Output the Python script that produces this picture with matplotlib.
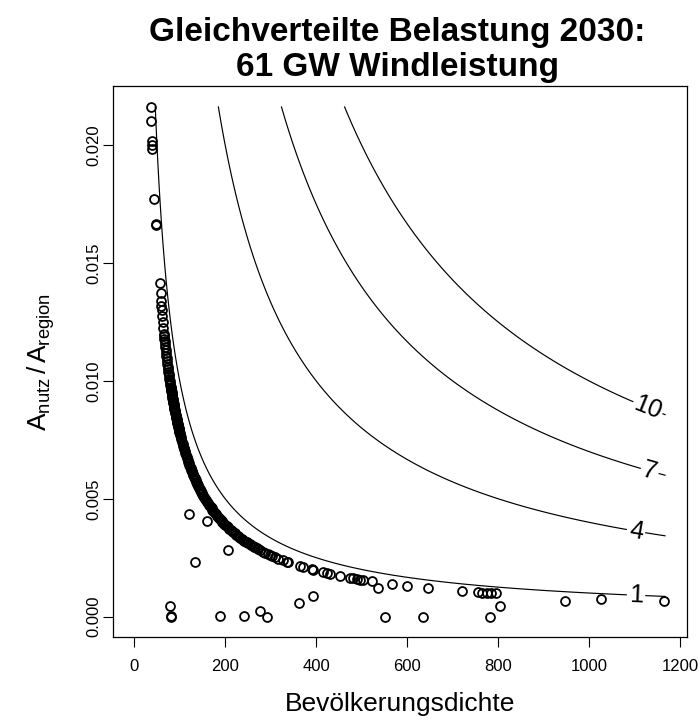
import numpy as np
import matplotlib
matplotlib.use("Agg")
import matplotlib.pyplot as plt

plt.rcParams['font.family'] = ['Liberation Sans', 'DejaVu Sans']
plt.rcParams['mathtext.fontset'] = 'custom'
plt.rcParams['mathtext.rm'] = 'Liberation Sans'
plt.rcParams['mathtext.it'] = 'Liberation Sans'

# ---- data: population density (x) and area share (y) ----
x_top = [36.0, 36.7, 38.0, 38.2, 38.4, 44.0, 47.5, 47.9, 56.5, 58.0, 59.0, 59.5, 60.0, 60.8, 62.5, 63.6,
         65.0, 65.5, 66.2, 66.8, 67.5, 68.2, 69.0, 69.7, 70.5, 71.2, 72.0, 72.8, 73.5, 74.3, 75.0, 75.8,
         76.5, 77.2, 78.0, 78.6, 79.3]
y_top = [0.02164, 0.02103, 0.02017, 0.02000, 0.01983, 0.01773, 0.01660, 0.01668, 0.01416, 0.01373, 0.01340,
         0.01320, 0.01300, 0.01276, 0.01248, 0.01226,
         0.01200, 0.01190, 0.01178, 0.01168, 0.01156, 0.01144, 0.01130, 0.01119, 0.01106, 0.01096, 0.01083,
         0.01071, 0.01061, 0.01050, 0.01040, 0.01029, 0.01020, 0.01010, 0.01000, 0.00992, 0.00984]

x_dense = [80, 80.5, 81, 81.5, 82, 82.5, 83, 83.5, 84, 84.5, 85, 85.5, 86, 86.5, 87, 87.5, 88, 88.5, 89, 89.5,
           90, 90.5, 91, 91.5, 92, 92.5, 93, 93.5, 94, 94.5, 95, 95.5, 96, 96.5, 97, 97.5, 98, 98.5, 99, 99.5,
           100, 101.25, 102.5, 103.75, 105, 106.25, 107.5, 108.75, 110, 111.25, 112.5, 113.75, 115, 116.25,
           117.5, 118.75, 120, 121.25, 122.5, 123.75, 125, 126.25, 127.5, 128.75, 130, 131.25, 132.5, 133.75,
           135, 136.25, 137.5, 138.75, 140, 141.25, 142.5, 143.75, 145, 146.25, 147.5, 148.75,
           150, 152, 154, 156, 158, 160, 162, 164, 166, 168, 170, 172, 174, 176, 178, 180, 182, 184, 186, 188,
           190, 192, 194, 196, 198,
           200, 203, 206, 209, 212, 215, 218, 221, 224, 227, 230, 233, 236, 239, 242, 245, 248, 251, 254, 257,
           260, 263, 266, 269]
y_dense = [0.009750, 0.009689, 0.009630, 0.009571, 0.009512, 0.009455, 0.009398, 0.009341, 0.009286, 0.009231,
           0.009176, 0.009123, 0.009070, 0.009017, 0.008966, 0.008914, 0.008864, 0.008814, 0.008764, 0.008715,
           0.008667, 0.008619, 0.008571, 0.008525, 0.008478, 0.008432, 0.008387, 0.008342, 0.008298, 0.008254,
           0.008211, 0.008168, 0.008125, 0.008083, 0.008041, 0.008000, 0.007959, 0.007919, 0.007879, 0.007839,
           0.007800, 0.007704, 0.007610, 0.007518, 0.007429, 0.007341, 0.007256, 0.007172, 0.007091, 0.007011,
           0.006933, 0.006857, 0.006783, 0.006710, 0.006638, 0.006568, 0.006500, 0.006433, 0.006367, 0.006303,
           0.006240, 0.006178, 0.006118, 0.006058, 0.006000, 0.005943, 0.005887, 0.005832, 0.005778, 0.005725,
           0.005673, 0.005622, 0.005571, 0.005522, 0.005474, 0.005426, 0.005379, 0.005333, 0.005288, 0.005244,
           0.005200, 0.005132, 0.005065, 0.005000, 0.004937, 0.004875, 0.004815, 0.004756, 0.004699, 0.004643,
           0.004588, 0.004535, 0.004483, 0.004432, 0.004382, 0.004333, 0.004286, 0.004239, 0.004194, 0.004149,
           0.004105, 0.004063, 0.004021, 0.003980, 0.003939,
           0.003900, 0.003842, 0.003786, 0.003732, 0.003679, 0.003628, 0.003578, 0.003529, 0.003482, 0.003436,
           0.003391, 0.003348, 0.003305, 0.003264, 0.003223, 0.003184, 0.003145, 0.003108, 0.003071, 0.003035,
           0.003000, 0.002966, 0.002932, 0.002900]

x_tail = [272, 277, 283, 288, 293, 298, 303, 310, 317, 326, 335, 339, 364, 371, 390, 394, 415, 423, 430, 452,
          474, 481, 489, 496, 503, 522, 565.7, 598.7, 646, 719.5, 755, 765, 775, 785, 795, 1025.7, 1164]
y_tail = [0.002868, 0.002816, 0.002756, 0.002708, 0.002662, 0.002617, 0.002574, 0.002516, 0.002461, 0.002393,
          0.002328, 0.002301, 0.002143, 0.002102, 0.002000, 0.001980, 0.001880, 0.001844, 0.001814, 0.001726,
          0.001646, 0.001622, 0.001595, 0.001573, 0.001551, 0.001494, 0.001379, 0.001303, 0.001207, 0.001084,
          0.001033, 0.001020, 0.001006, 0.000994, 0.000981, 0.000760, 0.000670]

x_out = [120.9, 159.8, 206.6, 134.1, 77.8, 80.0, 80.5, 189.0, 241.8, 276.0, 291.0, 362.6, 392.0, 536.0,
         551.0, 634.0, 803.7, 781.8, 946.6]
y_out = [0.004341, 0.004070, 0.002826, 0.002317, 0.000450, 0.000000, 0.000020, 0.000030, 0.000030, 0.000240,
         0.000000, 0.000590, 0.000870, 0.001200, 0.000000, 0.000000, 0.000450, 0.000000, 0.000660]

contour_levels = [1, 4, 7, 10]
label_pos = [(1103, 0.00091), (1103, 0.00363), (1133, 0.00618), (1129, 0.00886)]
x_ticks = [0, 200, 400, 600, 800, 1000, 1200]
y_ticks = [0.000, 0.005, 0.010, 0.015, 0.020]

title = "Gleichverteilte Belastung 2030:\n61 GW Windleistung"
xlabel = "Bevölkerungsdichte"
ylabel = r"$\mathrm{A_{nutz}}\,/\,\mathrm{A_{region}}$"

# ---- figure ----
W, H = 699, 724
fig = plt.figure(figsize=(W / 100, H / 100), dpi=100)
ax = fig.add_axes([113.3 / W, 1 - 637 / H, (687 - 113.3) / W, (637 - 86) / H])

xs = np.concatenate([x_top, x_dense, x_tail, x_out])
ys = np.concatenate([y_top, y_dense, y_tail, y_out])

# contour grid of x*y over the data range
gx = np.linspace(1.0, 1168.0, 700)
gy = np.linspace(0.0, 0.02165, 700)
GX, GY = np.meshgrid(gx, gy)
cs = ax.contour(GX, GY, GX * GY, levels=contour_levels, colors='black', linewidths=0.85)
lbls = ax.clabel(cs, inline=True, fontsize=18, fmt='%d', manual=label_pos, inline_spacing=3)

ax.plot(xs, ys, linestyle='none', marker='o', markersize=6.4, markerfacecolor='none',
        markeredgecolor='black', markeredgewidth=1.3)

ax.set_xlim(-46, 1215)
ax.set_ylim(-0.000866, 0.022516)
ax.set_xticks(x_ticks)
ax.set_xticklabels([str(t) for t in x_ticks])
ax.set_yticks(y_ticks)
ax.set_yticklabels([f"{t:.3f}" for t in y_ticks], rotation=90, va='center')
ax.tick_params(direction='out', length=7, width=0.8, labelsize=12)
ax.tick_params(axis='x', pad=9)
ax.tick_params(axis='y', pad=1.5)
for s in ax.spines.values():
    s.set_linewidth(0.9)

ax.set_xlabel(xlabel, fontsize=19, labelpad=13)
ax.set_ylabel(ylabel, fontsize=19, labelpad=21)

fig.text(397 / W, 1 - 50 / H, title, ha='center', va='center',
         fontsize=24, fontweight='bold', linespacing=1.2)

fig.savefig("out.png", dpi=100)
